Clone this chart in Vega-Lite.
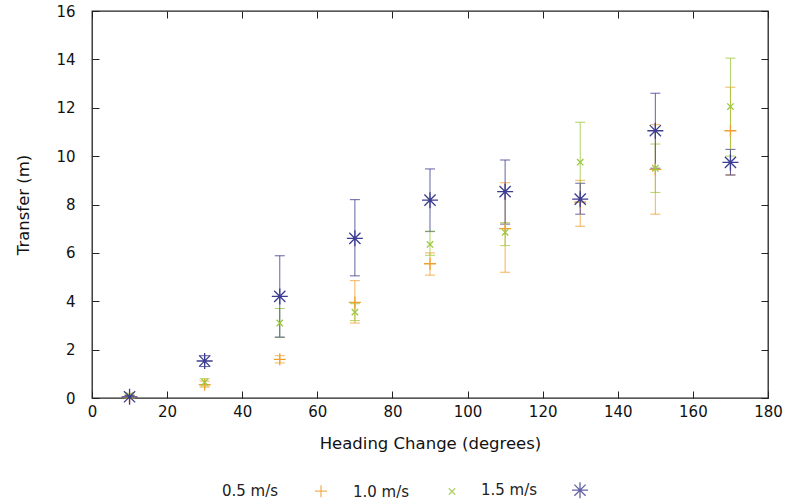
{
  "$schema": "https://vega.github.io/schema/vega-lite/v6.json",
  "autosize": "none",
  "width": 676,
  "height": 387,
  "padding": {"left": 92, "top": 11, "right": 24, "bottom": 101},
  "background": "white",
  "config": {
    "font": "DejaVu Sans",
    "view": {"stroke": "#222", "strokeWidth": 1.3},
    "axis": {"grid": false, "domain": false, "labelFlush": false, "tickColor": "#222", "tickSize": -7, "labelFontSize": 15, "labelColor": "#111", "titleFontSize": 16.5, "titleFontWeight": "normal", "titleColor": "#111"}
  },
  "data": {"values": [
    {"series": "0.5 m/s", "x": 10, "y": 0.02, "lo": 0.0, "hi": 0.1},
    {"series": "0.5 m/s", "x": 30, "y": 0.55, "lo": 0.45, "hi": 0.7},
    {"series": "0.5 m/s", "x": 50, "y": 1.6, "lo": 1.45, "hi": 1.75},
    {"series": "0.5 m/s", "x": 70, "y": 3.95, "lo": 3.1, "hi": 4.85},
    {"series": "0.5 m/s", "x": 90, "y": 5.55, "lo": 5.08, "hi": 6.0},
    {"series": "0.5 m/s", "x": 110, "y": 7.0, "lo": 5.2, "hi": 8.9},
    {"series": "0.5 m/s", "x": 130, "y": 8.1, "lo": 7.1, "hi": 9.0},
    {"series": "0.5 m/s", "x": 150, "y": 9.45, "lo": 7.6, "hi": 11.3},
    {"series": "0.5 m/s", "x": 170, "y": 11.05, "lo": 9.22, "hi": 12.85},
    {"series": "1.0 m/s", "x": 10, "y": 0.1, "lo": 0.05, "hi": 0.15},
    {"series": "1.0 m/s", "x": 30, "y": 0.65, "lo": 0.5, "hi": 0.8},
    {"series": "1.0 m/s", "x": 50, "y": 3.1, "lo": 2.5, "hi": 3.7},
    {"series": "1.0 m/s", "x": 70, "y": 3.55, "lo": 3.2, "hi": 3.9},
    {"series": "1.0 m/s", "x": 90, "y": 6.35, "lo": 5.9, "hi": 6.9},
    {"series": "1.0 m/s", "x": 110, "y": 6.85, "lo": 6.3, "hi": 7.25},
    {"series": "1.0 m/s", "x": 130, "y": 9.75, "lo": 8.1, "hi": 11.4},
    {"series": "1.0 m/s", "x": 150, "y": 9.5, "lo": 8.5, "hi": 10.5},
    {"series": "1.0 m/s", "x": 170, "y": 12.05, "lo": 10.0, "hi": 14.05},
    {"series": "1.5 m/s", "x": 10, "y": 0.05, "lo": 0.0, "hi": 0.1},
    {"series": "1.5 m/s", "x": 30, "y": 1.53, "lo": 1.3, "hi": 1.75},
    {"series": "1.5 m/s", "x": 50, "y": 4.2, "lo": 2.52, "hi": 5.88},
    {"series": "1.5 m/s", "x": 70, "y": 6.6, "lo": 5.05, "hi": 8.2},
    {"series": "1.5 m/s", "x": 90, "y": 8.18, "lo": 6.88, "hi": 9.47},
    {"series": "1.5 m/s", "x": 110, "y": 8.53, "lo": 7.19, "hi": 9.84},
    {"series": "1.5 m/s", "x": 130, "y": 8.22, "lo": 7.6, "hi": 8.88},
    {"series": "1.5 m/s", "x": 150, "y": 11.05, "lo": 9.5, "hi": 12.6},
    {"series": "1.5 m/s", "x": 170, "y": 9.74, "lo": 9.22, "hi": 10.28}
  ]},
  "resolve": {"scale": {"x": "independent", "y": "independent"}},
  "layer": [
    {
      "layer": [
        {
          "mark": {"type": "errorbar", "ticks": {"size": 10}, "thickness": 1, "opacity": 0.8},
          "encoding": {
            "x": {"field": "x", "type": "quantitative", "scale": {"domain": [0, 180], "nice": false}, "axis": {"values": [0,20,40,60,80,100,120,140,160,180], "title": "Heading Change (degrees)", "titlePadding": 16, "labelPadding": 13}},
            "y": {"field": "lo", "type": "quantitative", "scale": {"domain": [0, 16], "nice": false}, "axis": {"values": [0,2,4,6,8,10,12,14,16], "title": "Transfer (m)", "titlePadding": 24, "labelPadding": 24}},
            "y2": {"field": "hi"},
            "color": {"field": "series", "type": "nominal", "scale": {"domain": ["0.5 m/s", "1.0 m/s", "1.5 m/s"], "range": ["#f0a030", "#9cc840", "#3c3c90"]}}
          }
        },
        {
          "mark": {"type": "point", "filled": false, "strokeWidth": 1.3, "opacity": 1, "size": 256},
          "encoding": {
            "x": {"field": "x", "type": "quantitative"},
            "y": {"field": "y", "type": "quantitative"},
            "color": {"field": "series", "type": "nominal",
              "legend": {"orient": "none", "legendX": 220, "legendY": 470, "direction": "horizontal", "title": null, "labelFontSize": 15, "labelColor": "#222", "labelAlign": "right", "labelOffset": -52, "columnPadding": 22, "symbolStrokeWidth": 1.3, "symbolSize": 256}},
            "shape": {"field": "series", "type": "nominal", "scale": {"domain": ["0.5 m/s", "1.0 m/s", "1.5 m/s"], "range": ["M-0.75,0L0.75,0M0,-0.75L0,0.75", "M-0.4,-0.4L0.4,0.4M-0.4,0.4L0.4,-0.4", "M-1,0L1,0M0,-1L0,1M-0.7,-0.7L0.7,0.7M-0.7,0.7L0.7,-0.7"]}}
          }
        }
      ]
    },
    {
      "mark": {"type": "point", "opacity": 0},
      "encoding": {
        "x": {"field": "x", "type": "quantitative", "scale": {"domain": [0, 180], "nice": false}, "axis": {"orient": "top", "labels": false, "title": null, "values": [0,20,40,60,80,100,120,140,160,180]}},
        "y": {"field": "y", "type": "quantitative", "scale": {"domain": [0, 16], "nice": false}, "axis": {"orient": "right", "labels": false, "title": null, "values": [0,2,4,6,8,10,12,14,16]}}
      }
    }
  ]
}
